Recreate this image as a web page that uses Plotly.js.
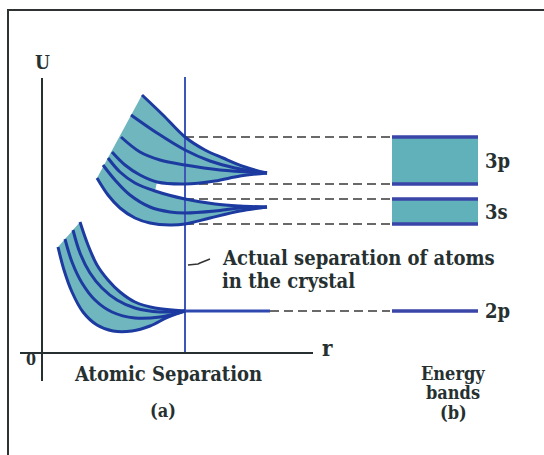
<!DOCTYPE html>
<html>
<head>
<meta charset="utf-8">
<script src="https://cdn.plot.ly/plotly-3.0.1.min.js"></script>
<style>
  html, body { margin: 0; padding: 0; background: #ffffff; overflow: hidden; }
  #wrap { position: relative; width: 544px; height: 455px; overflow: hidden; }
  #chart { width: 544px; height: 455px; }
  /* figure frame: top and left edges */
  #frame {
    position: absolute; left: 7px; top: 9px; width: 600px; height: 500px;
    border-left: 2px solid #2e3232; border-top: 2px solid #2e3232;
    pointer-events: none;
  }
</style>
</head>
<body>
<div id="wrap">
  <div id="chart"></div>
  <div id="frame"></div>
</div>
<script>
// Splitting of atomic energy levels into bands as atoms come together.
// r and U are measured from the origin of diagram (a).

const rActual = 143;                 // actual separation of atoms in the crystal
const levelLabels = ['3p', '3s', '2p'];
const bandTop    = [216, 154, 42];   // upper edge of each band at r = rActual
const bandBottom = [169, 129, 42];   // lower edge of each band at r = rActual
const bandR = [350, 436];            // horizontal extent of the band column (b)
const connectorEnd = 348;
const line2pEnd = 228;

// 3p level: split curves (upper edge first, lower edge last)
const p3R = [
  [100, 121, 143, 163, 181, 203, 225],
  [89, 115, 143, 168, 193, 225],
  [79, 98, 118, 143, 178, 225],
  [70, 83, 98, 115, 143, 173, 198, 225]
];
const p3U = [
  [258, 238, 216, 203, 195, 186, 180],
  [238, 220, 203, 192, 185, 180],
  [216, 201, 193, 188, 183, 180],
  [201, 188, 178, 171, 169, 172, 177, 180]
];

// 3s level: split curves
const s3R = [
  [66, 78, 93, 113, 143, 173, 198, 225],
  [61, 73, 88, 108, 128, 143, 173, 198, 225],
  [55, 66, 78, 93, 108, 128, 143, 168, 198, 225]
];
const s3U = [
  [195, 181, 170, 162, 154, 149, 147, 146],
  [188, 173, 158, 146, 141, 140, 142, 145, 146],
  [175, 158, 145, 135, 130, 128, 129, 135, 142, 146]
];

// 2p level: split curves
const p2R = [
  [38, 46, 55, 66, 78, 93, 113, 143],
  [31, 38, 48, 60, 75, 93, 118, 143],
  [23, 30, 40, 53, 70, 93, 118, 143],
  [16, 22, 30, 41, 55, 71, 90, 108, 126, 143]
];
const p2U = [
  [131, 108, 88, 73, 61, 51, 45, 42],
  [123, 100, 80, 65, 53, 45, 41, 42],
  [114, 91, 70, 53, 41, 35, 36, 42],
  [106, 83, 61, 41, 28, 22, 22, 27, 36, 42]
];

const FONT = 'DejaVu Serif Condensed, DejaVu Serif, serif';
const INK = '#263030';
const CURVE = '#1c3aa0';
const FILL = '#6fb6bf';
const BAND_FILL = '#60b1ba';
const BAND_EDGE = '#3a45a8';

const rev = a => a.slice().reverse();
const traces = [];
const seg = (x, y, color, width, dash) => ({
  x, y, mode: 'lines', line: { color, width, dash: dash || 'solid' }, hoverinfo: 'skip'
});

// shaded region of the 3p and 3s curves: top of 3p, back along lowest 3p
// curve to where the gap opens, on along the top 3s curve, back along lowest 3s curve
const gapP = 3, gapS = 3;
const topP = p3R.length - 1;
const lastS = s3R.length - 1;
traces.push({
  x: [].concat(p3R[0], rev(p3R[topP].slice(gapP)), s3R[0].slice(gapS), rev(s3R[lastS])),
  y: [].concat(p3U[0], rev(p3U[topP].slice(gapP)), s3U[0].slice(gapS), rev(s3U[lastS])),
  fill: 'toself', fillcolor: FILL, mode: 'lines', line: { width: 0 }, hoverinfo: 'skip'
});
// shaded region of the 2p curves
traces.push({
  x: [].concat(p2R[0], rev(p2R[p2R.length - 1])),
  y: [].concat(p2U[0], rev(p2U[p2U.length - 1])),
  fill: 'toself', fillcolor: FILL, mode: 'lines', line: { width: 0 }, hoverinfo: 'skip'
});

// actual separation marker
traces.push(seg([rActual, rActual], [0, 276], '#3d56b8', 2));

// band column (b)
for (let i = 0; i < levelLabels.length; i++) {
  if (bandTop[i] !== bandBottom[i]) {
    traces.push({
      x: [bandR[0], bandR[1], bandR[1], bandR[0], bandR[0]],
      y: [bandBottom[i], bandBottom[i], bandTop[i], bandTop[i], bandBottom[i]],
      fill: 'toself', fillcolor: BAND_FILL, mode: 'lines', line: { width: 0 }, hoverinfo: 'skip'
    });
  }
}

// dashed connectors from the band edges at rActual to the band column
for (let i = 0; i < levelLabels.length; i++) {
  const single = bandTop[i] === bandBottom[i];
  const edges = single ? [bandTop[i]] : [bandTop[i], bandBottom[i]];
  edges.forEach(u => {
    traces.push(seg([single ? line2pEnd : rActual, connectorEnd], [u, u], '#383838', 1.6, '9px,5px'));
    traces.push(seg([bandR[0], bandR[1]], [u, u], BAND_EDGE, 3.5));
  });
}

// 2p level continues unsplit past rActual
traces.push(seg([rActual, line2pEnd], [bandTop[2], bandTop[2]], '#2f48b0', 3));

// split-level curves
[[p3R, p3U], [s3R, s3U], [p2R, p2U]].forEach(([R, U]) => {
  R.forEach((xs, k) => {
    traces.push({
      x: xs, y: U[k], mode: 'lines',
      line: { color: CURVE, width: 3, shape: 'spline', smoothing: 1 }, hoverinfo: 'skip'
    });
  });
});

// axes of diagram (a)
traces.push(seg([0, 0], [275, -28], INK, 2));
traces.push(seg([-22, 271], [0, 0], INK, 2));

// leader from the separation marker to its caption
traces.push(seg([146, 156, 158, 168], [88, 89, 90, 94], '#333333', 1.5));

const txt = (text, x, y, size, xanchor) => ({
  text: '<b>' + text + '</b>', x, y, xref: 'x', yref: 'y', showarrow: false,
  xanchor: xanchor || 'center', yanchor: 'middle',
  font: { family: FONT, size, color: INK }
});

const annotations = [
  txt('U', 0, 291, 19),
  txt('r', 285, 5, 22),
  txt('0', -11, -6, 16),
  txt('Atomic Separation', 126, -21, 20),
  txt('(a)', 121, -57, 18),
  txt('Energy', 411, -20, 18),
  txt('bands', 411, -39, 18),
  txt('(b)', 411, -59, 18),
  txt('Actual separation of atoms', 178, 95, 20, 'left'),
  txt('in the crystal', 178, 72, 20, 'left')
];
levelLabels.forEach((lab, i) => {
  annotations.push(txt(lab, 441, (bandTop[i] + bandBottom[i]) / 2, 20, 'left'));
});

const layout = {
  width: 544, height: 455,
  margin: { l: 0, r: 0, t: 0, b: 0, pad: 0 },
  paper_bgcolor: '#ffffff', plot_bgcolor: '#ffffff',
  showlegend: false,
  xaxis: { range: [-42, 502], visible: false, fixedrange: true },
  yaxis: { range: [-102, 353], visible: false, fixedrange: true },
  annotations
};

Plotly.newPlot('chart', traces, layout, { displayModeBar: false, staticPlot: true });
</script>
</body>
</html>
